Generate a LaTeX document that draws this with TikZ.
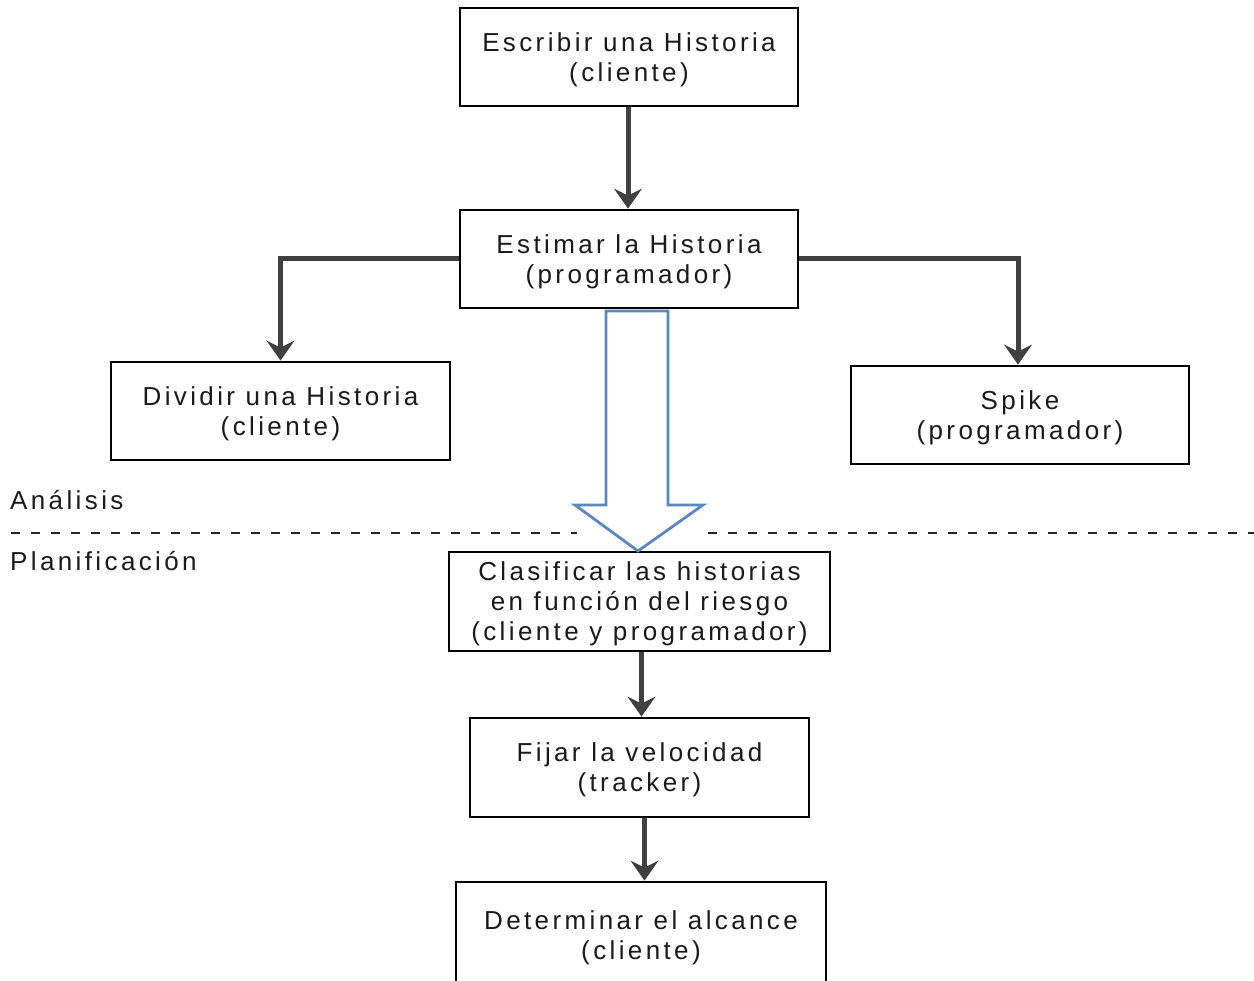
\documentclass[tikz,border=0pt]{standalone}
\usepackage{fontspec}
\setmainfont{Liberation Sans}[LetterSpace=13]
\usetikzlibrary{arrows.meta,calc}
\definecolor{arrgray}{HTML}{404040}
\definecolor{bigblue}{HTML}{5B87C0}
\definecolor{txt}{HTML}{1A1A1A}
\tikzset{
  stepbox/.style={draw=black, line width=2.8pt, fill=white, align=center, inner sep=0pt,
    text=txt, font=\fontsize{26}{30}\selectfont, text depth=0pt},
  conn/.style={draw=arrgray, line width=5pt, -{Stealth[length=20pt,width=28pt,inset=7pt]}},
  lbl/.style={anchor=west, inner sep=0pt, text=txt, font=\fontsize{26}{30}\selectfont},
  sep/.style={draw=black!85, line width=2pt, dash pattern=on 9pt off 11pt}
}
\begin{document}
\begin{tikzpicture}[x=1pt,y=-1pt]
\useasboundingbox (0,0) rectangle (1254,981);
% separator line
\draw[sep] (11,533) -- (577,533);
\draw[sep] (708,533) -- (1254,533);
% boxes
\node[stepbox, minimum width=338pt, minimum height=98pt] (b1) at (629,57) {Escribir una Historia\\(cliente)};
\node[stepbox, minimum width=338pt, minimum height=98pt] (b2) at (629,259) {Estimar la Historia\\(programador)};
\node[stepbox, minimum width=339pt, minimum height=98pt] (b3) at (280.5,411) {Dividir una Historia\\(cliente)};
\node[stepbox, minimum width=338pt, minimum height=98pt] (b4) at (1020,415) {Spike\\(programador)};
\node[stepbox, minimum width=381pt, minimum height=99pt] (b5) at (639.5,601.5) {Clasificar las historias\\en función del riesgo\\(cliente y programador)};
\node[stepbox, minimum width=339pt, minimum height=99pt] (b6) at (639.5,767.5) {Fijar la velocidad\\(tracker)};
\node[stepbox, minimum width=370pt, minimum height=106pt] (b7) at (641,935) {Determinar el alcance\\(cliente)};
% connectors
\draw[conn] ([xshift=-1pt]b1.south) -- ([xshift=-1pt]b2.north);
\draw[conn] (b2.west) -| (b3.north);
\draw[conn] (b2.east) -| ([xshift=-2pt]b4.north);
\draw[conn] ([xshift=2pt]b5.south) -- ([xshift=2pt]b6.north);
\draw[conn] ([xshift=5pt]b6.south) -- ([xshift=5pt]b6.south |- b7.north);
% big hollow arrow
\draw[bigblue, line width=2.8pt, fill=white, line join=miter]
  (606,311) -- (668,311) -- (668,505) -- (703,505) -- (638,551) -- (575,505) -- (606,505) -- cycle;
% section labels
\node[lbl] (la) at (10,500) {Análisis};
\node[lbl] (lp) at (10,561) {Planificación};
\end{tikzpicture}
\end{document}
